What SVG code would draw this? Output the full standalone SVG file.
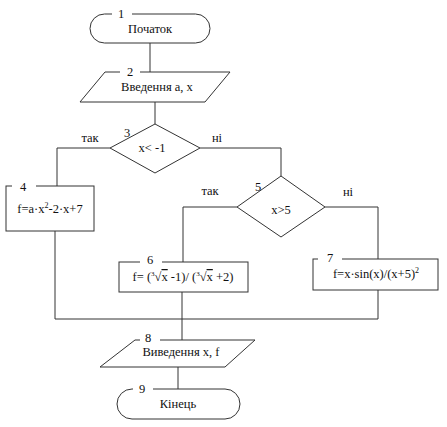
<svg xmlns="http://www.w3.org/2000/svg" width="447" height="427" viewBox="0 0 447 427" font-family="'Liberation Serif', 'DejaVu Serif', serif">
<style>
.s{fill:#fff;stroke:#333;stroke-width:1}
.c{fill:none;stroke:#333;stroke-width:1}
text{font-family:'Liberation Serif','DejaVu Serif',serif;font-size:12.5px;fill:#111}
.m{text-anchor:middle}
.n{text-anchor:middle}
.g{fill:#fff;stroke:none}
</style>
<rect width="447" height="427" fill="#fff"/>
<g id="connectors">
<path class="c" d="M150 43V72"/>
<path class="c" d="M155 102V124"/>
<path class="c" d="M110 148H57V186"/>
<path class="c" d="M200 148H281V176"/>
<path class="c" d="M237 207H183V262"/>
<path class="c" d="M325 207H378V259"/>
<path class="c" d="M55 231V319H378V290"/>
<path class="c" d="M182 292V319"/>
<path class="c" d="M182 319V340"/>
<path class="c" d="M178 367V389"/>
<text x="90" y="142" class="m">так</text>
<text x="217" y="142" class="m">ні</text>
<text x="210" y="195" class="m">так</text>
<text x="348" y="196" class="m">ні</text>
</g>
<g id="node1">
<rect class="s" x="90" y="14" width="120" height="29" rx="14.5"/>
<rect class="g" x="112" y="8" width="20" height="12"/>
<text x="121" y="18" class="n">1</text>
<text x="150" y="33" class="m">Початок</text>
</g>
<g id="node2">
<polygon class="s" points="105,72 230,72 205,102 80,102"/>
<rect class="g" x="120" y="66" width="20" height="12"/>
<text x="130" y="76" class="n">2</text>
<text x="157" y="91" class="m">Введення  а,  х</text>
</g>
<g id="node3">
<polygon class="s" points="155,124 200,148 155,173 110,148"/>
<text x="127" y="137" class="n">3</text>
<text x="152" y="152" class="m" font-size="14">x&lt; -1</text>
</g>
<g id="node4">
<rect class="s" x="6" y="186" width="88" height="45"/>
<rect class="g" x="12" y="180" width="24" height="12"/>
<text x="23" y="191" class="n">4</text>
<text x="50" y="213" class="m" font-size="13">f=a·x<tspan dy="-5" font-size="8">2</tspan><tspan dy="5">-2·x+7</tspan></text>
</g>
<g id="node5">
<polygon class="s" points="281,176 325,207 281,237 237,207"/>
<text x="258" y="191" class="n">5</text>
<text x="281" y="214" class="m">x&gt;5</text>
</g>
<g id="node6">
<rect class="s" x="119" y="262" width="129" height="30"/>
<rect class="g" x="140" y="255" width="22" height="12"/>
<text x="150" y="264" class="n">6</text>
<text x="183" y="281" class="m" font-size="13">f= (<tspan dy="-5" font-size="7">3</tspan><tspan dy="5">√</tspan><tspan text-decoration="overline">x</tspan> -1)/ (<tspan dy="-5" font-size="7">3</tspan><tspan dy="5">√</tspan><tspan text-decoration="overline">x</tspan> +2)</text>
</g>
<g id="node7">
<rect class="s" x="313" y="259" width="125" height="31"/>
<rect class="g" x="318" y="252" width="24" height="12"/>
<text x="330" y="262" class="n">7</text>
<text x="376" y="278" class="m" font-size="13">f=x·sin(x)/(x+5)<tspan dy="-5" font-size="8">2</tspan></text>
</g>
<g id="node8">
<polygon class="s" points="135,340 255,340 225,367 100,367"/>
<rect class="g" x="140" y="334" width="20" height="12"/>
<text x="148" y="342" class="n">8</text>
<text x="181" y="356" class="m">Виведення х, f</text>
</g>
<g id="node9">
<rect class="s" x="117" y="389" width="123" height="30" rx="15"/>
<rect class="g" x="133" y="383" width="20" height="12"/>
<text x="142" y="393" class="n">9</text>
<text x="178" y="408" class="m">Кінець</text>
</g>
</svg>
